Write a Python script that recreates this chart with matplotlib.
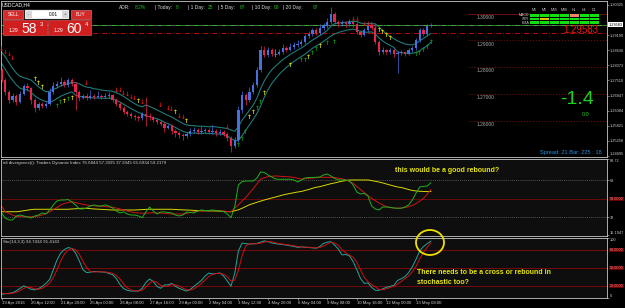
import numpy as np, matplotlib
matplotlib.use("Agg")
import matplotlib.pyplot as plt
from matplotlib.patches import Rectangle, Ellipse
from matplotlib.transforms import blended_transform_factory as blend

plt.rcParams.update({"font.family": ["Liberation Sans", "DejaVu Sans"], "font.size": 4})
BG, PANEL, FRAME, TXT = "#000000", "#0e0e0e", "#c8c8c8", "#d0d0d0"
BULL, BEAR, DOJI, TEAL = "#4470e0", "#e8254f", "#9a9a9a", "#1f7a78"
GREEN, YEL, DRED = "#22c022", "#e8e800", "#7a0a0a"
AXFS = 2.8  # right-hand scale labels

# ---------- data: USDCAD H4 candles ----------
opens = [1.2790, 1.2753, 1.2708, 1.2678, 1.2693, 1.2671, 1.2700, 1.2730, 1.2723, 1.2678,
         1.2648, 1.2663, 1.2656, 1.2663, 1.2708, 1.2730, 1.2738, 1.2745, 1.2734, 1.2753,
         1.2738, 1.2708, 1.2686, 1.2693, 1.2686, 1.2693, 1.2689, 1.2693, 1.2689, 1.2693,
         1.2697, 1.2678, 1.2663, 1.2648, 1.2633, 1.2626, 1.2618, 1.2615, 1.2611, 1.2626,
         1.2618, 1.2615, 1.2603, 1.2596, 1.2588, 1.2574, 1.2581, 1.2562, 1.2555, 1.2547,
         1.2544, 1.2551, 1.2562, 1.2566, 1.2559, 1.2562, 1.2566, 1.2559, 1.2562, 1.2555,
         1.2559, 1.2551, 1.2536, 1.2506, 1.2529, 1.2641, 1.2697, 1.2678, 1.2708, 1.2734,
         1.2790, 1.2865, 1.2846, 1.2865, 1.2850, 1.2850, 1.2857, 1.2872, 1.2865, 1.2876,
         1.2883, 1.2887, 1.2894, 1.2917, 1.2924, 1.2939, 1.2928, 1.2947, 1.2954, 1.2969,
         1.2999, 1.2969, 1.2961, 1.2965, 1.2961, 1.2969, 1.2961, 1.2932, 1.2920, 1.2939,
         1.2958, 1.2947, 1.2894, 1.2857, 1.2865, 1.2857, 1.2865, 1.2850, 1.2853, 1.2857,
         1.2850, 1.2865, 1.2872, 1.2902, 1.2939, 1.2924, 1.2954]
highs = [1.2798, 1.2760, 1.2715, 1.2703, 1.2700, 1.2712, 1.2738, 1.2740, 1.2728, 1.2685,
         1.2672, 1.2670, 1.2670, 1.2722, 1.2745, 1.2750, 1.2765, 1.2752, 1.2760, 1.2760,
         1.2745, 1.2715, 1.2700, 1.2703, 1.2715, 1.2700, 1.2712, 1.2700, 1.2705, 1.2708,
         1.2702, 1.2685, 1.2670, 1.2655, 1.2640, 1.2632, 1.2625, 1.2622, 1.2635, 1.2690,
         1.2630, 1.2620, 1.2610, 1.2603, 1.2595, 1.2590, 1.2588, 1.2570, 1.2562, 1.2555,
         1.2560, 1.2575, 1.2578, 1.2572, 1.2580, 1.2575, 1.2572, 1.2585, 1.2570, 1.2568,
         1.2565, 1.2560, 1.2542, 1.2540, 1.2655, 1.2712, 1.2705, 1.2725, 1.2745, 1.2800,
         1.2880, 1.2878, 1.2875, 1.2872, 1.2868, 1.2870, 1.2885, 1.2880, 1.2890, 1.2895,
         1.2900, 1.2905, 1.2925, 1.2935, 1.2948, 1.2945, 1.2960, 1.2965, 1.2985, 1.3025,
         1.3005, 1.2975, 1.2975, 1.2972, 1.2980, 1.2978, 1.2968, 1.2940, 1.2948, 1.2970,
         1.2965, 1.2952, 1.2900, 1.2875, 1.2870, 1.2872, 1.2870, 1.2862, 1.2865, 1.2862,
         1.2872, 1.2880, 1.2910, 1.2948, 1.2945, 1.2962, 1.2966]
lows = [1.2745, 1.2695, 1.2665, 1.2670, 1.2660, 1.2665, 1.2695, 1.2712, 1.2662, 1.2635,
        1.2640, 1.2648, 1.2650, 1.2658, 1.2700, 1.2722, 1.2730, 1.2725, 1.2728, 1.2730,
        1.2640, 1.2675, 1.2680, 1.2678, 1.2682, 1.2682, 1.2684, 1.2680, 1.2684, 1.2686,
        1.2670, 1.2655, 1.2640, 1.2625, 1.2618, 1.2610, 1.2605, 1.2600, 1.2605, 1.2580,
        1.2605, 1.2595, 1.2588, 1.2580, 1.2560, 1.2568, 1.2552, 1.2540, 1.2535, 1.2530,
        1.2538, 1.2545, 1.2555, 1.2550, 1.2552, 1.2555, 1.2550, 1.2552, 1.2545, 1.2548,
        1.2542, 1.2525, 1.2485, 1.2498, 1.2520, 1.2630, 1.2660, 1.2670, 1.2700, 1.2725,
        1.2782, 1.2838, 1.2840, 1.2842, 1.2838, 1.2845, 1.2850, 1.2858, 1.2860, 1.2870,
        1.2875, 1.2880, 1.2888, 1.2910, 1.2918, 1.2920, 1.2922, 1.2940, 1.2948, 1.2962,
        1.2960, 1.2952, 1.2955, 1.2952, 1.2955, 1.2950, 1.2925, 1.2912, 1.2915, 1.2932,
        1.2938, 1.2885, 1.2845, 1.2848, 1.2848, 1.2850, 1.2840, 1.2780, 1.2845, 1.2842,
        1.2845, 1.2858, 1.2865, 1.2895, 1.2915, 1.2918, 1.2950]
closes = [1.2753, 1.2708, 1.2678, 1.2693, 1.2671, 1.2700, 1.2730, 1.2723, 1.2678, 1.2648,
          1.2663, 1.2656, 1.2663, 1.2708, 1.2730, 1.2738, 1.2745, 1.2734, 1.2753, 1.2738,
          1.2708, 1.2686, 1.2693, 1.2686, 1.2693, 1.2689, 1.2693, 1.2689, 1.2693, 1.2697,
          1.2678, 1.2663, 1.2648, 1.2633, 1.2626, 1.2618, 1.2615, 1.2611, 1.2626, 1.2618,
          1.2615, 1.2603, 1.2596, 1.2588, 1.2574, 1.2581, 1.2562, 1.2555, 1.2547, 1.2544,
          1.2551, 1.2562, 1.2566, 1.2559, 1.2562, 1.2566, 1.2559, 1.2562, 1.2555, 1.2559,
          1.2551, 1.2536, 1.2506, 1.2529, 1.2641, 1.2697, 1.2678, 1.2708, 1.2734, 1.2790,
          1.2865, 1.2846, 1.2865, 1.2850, 1.2850, 1.2857, 1.2872, 1.2865, 1.2876, 1.2883,
          1.2887, 1.2894, 1.2917, 1.2924, 1.2939, 1.2928, 1.2947, 1.2954, 1.2969, 1.2999,
          1.2969, 1.2961, 1.2965, 1.2961, 1.2969, 1.2961, 1.2932, 1.2920, 1.2939, 1.2958,
          1.2947, 1.2894, 1.2857, 1.2865, 1.2857, 1.2865, 1.2850, 1.2853, 1.2857, 1.2850,
          1.2865, 1.2872, 1.2902, 1.2939, 1.2924, 1.2954, 1.2958]

# signal arrows (bar index, price)
red_idx = [0, 1, 2, 3, 23, 31, 32, 33, 34, 35, 36, 38, 43, 45, 46, 48, 49, 61, 95, 96, 98, 99, 100, 101]
red_px = [1.2865, 1.2857, 1.2846, 1.2831, 1.2738, 1.2715, 1.2712, 1.2704, 1.2697, 1.2689, 1.2682, 1.2667,
          1.2659, 1.2648, 1.2641, 1.2618, 1.2611, 1.2574, 1.2980, 1.2980, 1.2961, 1.2961, 1.2958, 1.2954]
yel_idx = [9, 10, 11, 17, 19, 37, 47, 50, 67, 68, 71, 78, 83, 86, 102, 103, 104, 105]
yel_px = [1.2756, 1.2741, 1.2726, 1.2674, 1.2682, 1.2671, 1.2630, 1.2596, 1.2611, 1.2630, 1.2704, 1.2805,
          1.2838, 1.2876, 1.2939, 1.2928, 1.2917, 1.2909]
grn_idx = [15, 16, 18, 64, 65, 66, 69, 70, 81, 82, 84, 85, 88, 90, 112, 113, 114, 115, 116]
grn_px = [1.2652, 1.2667, 1.2678, 1.2510, 1.2529, 1.2555, 1.2648, 1.2667, 1.2824, 1.2824, 1.2853, 1.2865,
          1.2887, 1.2894, 1.2846, 1.2850, 1.2861, 1.2872, 1.2891]

# Traders Dynamic Index
tdi_price = [36.4, 31.5, 29.6, 29.6, 33.5, 34.4, 33.5, 32.5, 31.5, 33.5,
             34.4, 36.4, 35.4, 39.3, 44.2, 48.1, 49.0, 49.0, 49.5, 47.1,
             44.2, 40.3, 40.3, 41.2, 43.2, 44.2, 43.2, 43.2, 44.2, 43.2,
             41.2, 38.3, 36.4, 37.4, 35.4, 34.4, 34.4, 33.5, 31.8, 37.4,
             42.2, 38.3, 35.4, 37.4, 37.4, 36.9, 36.4, 34.4, 33.5, 34.4,
             37.4, 36.9, 36.4, 38.3, 39.3, 38.8, 38.8, 39.3, 38.8, 38.3,
             37.8, 35.4, 31.8, 42.2, 63.6, 67.0, 67.5, 67.5, 67.5, 70.4,
             76.3, 75.8, 73.4, 71.4, 69.5, 69.2, 69.2, 69.2, 69.2, 68.5,
             66.5, 68.5, 70.4, 70.9, 70.9, 71.1, 71.4, 73.4, 74.3, 72.4,
             69.9, 68.5, 68.5, 68.5, 67.5, 63.6, 56.8, 54.9, 55.4, 52.9,
             43.2, 40.3, 39.3, 42.2, 42.2, 41.9, 41.2, 41.0, 41.0, 42.2,
             44.2, 49.0, 55.8, 61.7, 62.2, 62.6, 65.7]
tdi_signal = [43.2, 37.6, 35.9, 34.4, 33.0, 32.8, 32.8, 32.8, 32.8, 33.0,
              33.5, 34.4, 35.9, 37.4, 39.8, 41.7, 44.2, 45.6, 46.6, 47.3,
              46.6, 45.6, 44.8, 44.2, 43.7, 43.4, 43.2, 42.9, 42.6, 42.2,
              41.9, 41.2, 40.3, 39.3, 38.3, 37.4, 36.7, 36.4, 36.1, 36.2,
              36.4, 36.7, 36.4, 36.2, 36.1, 35.8, 35.4, 35.4, 35.4, 35.4,
              35.9, 36.9, 37.6, 38.0, 38.3, 38.6, 38.6, 38.6, 38.6, 38.6,
              38.3, 37.8, 37.6, 41.2, 44.2, 48.1, 51.5, 55.8, 59.9, 64.6,
              69.2, 70.7, 71.7, 72.1, 72.4, 72.2, 71.9, 71.7, 71.4, 71.1,
              70.2, 69.3, 69.7, 70.0, 70.4, 70.7, 71.1, 71.1, 71.1, 71.1,
              70.9, 70.2, 69.7, 68.7, 67.0, 65.3, 62.2, 59.2, 56.3, 53.4,
              50.7, 48.3, 46.1, 44.2, 42.5, 41.7, 41.2, 41.0, 41.2, 41.7,
              42.5, 43.7, 45.6, 47.8, 50.7, 54.5, 59.2]
tdi_base = [37.6, 37.6, 37.6, 37.6, 37.6, 38.0, 38.6, 39.1, 39.7, 40.0,
            40.0, 40.0, 40.0, 40.0, 40.0, 40.0, 40.0, 40.0, 40.0, 40.3,
            40.5, 40.8, 41.0, 40.9, 40.6, 40.3, 40.1, 39.9, 39.7, 39.5,
            39.3, 39.3, 39.3, 39.3, 39.3, 39.3, 39.3, 39.5, 39.7, 39.9,
            40.0, 40.0, 40.0, 40.0, 40.0, 40.0, 40.0, 39.8, 39.6, 39.4,
            39.3, 39.1, 38.9, 38.7, 38.6, 38.5, 38.4, 38.4, 38.3, 38.1,
            37.9, 37.7, 37.6, 38.5, 39.5, 41.0, 42.7, 44.4, 45.6, 46.8,
            47.9, 49.0, 50.0, 51.0, 51.9, 52.9, 53.9, 54.7, 55.4, 56.1,
            56.8, 57.3, 58.3, 59.2, 60.4, 61.4, 62.0, 62.9, 63.9, 64.9,
            65.6, 66.5, 67.3, 67.9, 68.5, 68.5, 68.5, 68.5, 68.5, 68.5,
            67.9, 67.2, 66.5, 65.6, 64.6, 63.6, 62.6, 61.7, 61.2, 60.2,
            59.2, 58.3, 57.8, 57.5, 57.3, 57.2, 57.3]

# Stochastic (14,3,3)
sto_main = [6.2, 7.1, 7.9, 8.7, 12.0, 16.1, 20.2, 17.7, 14.4, 13.6,
            15.6, 19.4, 24.3, 30.8, 47.2, 63.6, 75.1, 80.8, 84.1, 82.5,
            75.1, 62.0, 47.2, 42.3, 43.1, 44.3, 43.9, 43.3, 43.0, 41.1,
            39.0, 32.5, 22.6, 15.6, 12.8, 11.6, 11.6, 11.6, 16.1, 25.9,
            31.6, 27.5, 19.4, 16.1, 21.8, 21.8, 24.3, 19.4, 16.1, 13.6,
            11.6, 14.4, 19.4, 24.3, 29.2, 36.6, 41.5, 40.2, 40.7, 41.8,
            36.6, 28.4, 19.8, 40.7, 78.4, 91.5, 90.6, 89.8, 90.3, 91.0,
            93.1, 95.2, 93.9, 91.8, 90.6, 89.7, 89.0, 88.2, 87.0, 85.9,
            84.4, 85.2, 84.6, 84.1, 83.6, 82.9, 85.7, 91.0, 93.1, 93.9,
            88.2, 81.6, 71.8, 72.5, 70.2, 60.8, 47.2, 32.5, 24.3, 25.1,
            17.7, 12.8, 12.8, 15.3, 17.7, 19.4, 21.0, 29.2, 32.0, 35.7,
            42.3, 52.1, 64.4, 78.4, 85.7, 90.5, 94.7]
sto_signal = [8.0, 7.5, 7.1, 7.9, 9.5, 12.3, 16.1, 18.0, 17.4, 15.2,
              14.5, 16.2, 19.8, 24.8, 34.1, 47.2, 62.0, 73.2, 80.0, 82.5,
              80.6, 73.2, 61.4, 50.5, 44.2, 43.2, 43.8, 43.8, 43.4, 42.5,
              41.0, 37.5, 31.4, 23.6, 17.0, 13.3, 12.0, 11.6, 13.1, 17.9,
              24.5, 28.3, 26.2, 21.0, 19.1, 19.9, 22.6, 21.8, 19.9, 16.4,
              13.8, 13.2, 15.1, 19.4, 24.3, 30.0, 35.8, 39.4, 40.8, 40.9,
              39.7, 35.6, 28.3, 29.6, 46.3, 70.2, 86.8, 90.6, 90.2, 90.4,
              91.5, 93.1, 94.1, 93.6, 92.1, 90.7, 89.8, 89.0, 88.1, 87.0,
              85.8, 85.2, 84.7, 84.6, 84.1, 83.5, 84.1, 86.5, 89.9, 92.7,
              91.7, 87.9, 80.5, 75.3, 71.5, 67.8, 59.4, 46.8, 34.7, 27.3,
              22.4, 18.5, 14.4, 13.6, 15.3, 17.5, 19.4, 23.2, 27.4, 32.3,
              36.7, 43.4, 52.9, 65.0, 76.2, 84.6, 91.4]

time_ticks = [0, 8, 16, 24, 32, 40, 48, 56, 64, 72, 80, 88, 96, 104, 112]
time_labels = ["19 Apr 2016", "20 Apr 12:00", "21 Apr 20:00", "25 Apr 00:00", "26 Apr 08:00",
               "27 Apr 16:00", "29 Apr 00:00", "2 May 04:00", "3 May 12:00", "4 May 20:00",
               "6 May 04:00", "9 May 08:00", "10 May 16:00", "12 May 00:00", "13 May 08:00"]
price_ticks = [1.30325, 1.29199, 1.28636, 1.28073, 1.27510, 1.26947, 1.26384, 1.25821, 1.25258, 1.24695]
round_levels = [1.30, 1.29, 1.28, 1.27, 1.26]
BID, ASK_LINE = 1.29583, 1.2928
adr_keys = ["ADR:", "| Today:", "| 1 Day:", "| 5 Day:", "| 10 Day:", "| 20 Day:"]
adr_vals = ["8.2%", "8", "25", "87", "98", "97"]
tf_cols = ["M1", "M5", "M15", "M30", "H1", "H4", "D1"]
tf_rows = ["MACD", "STR", "EMA"]
tf_state = [["g", "g", "g", "g", "s", "g", "g"],
            ["g", "y", "g", "g", "g", "g", "g"],
            ["g", "g", "g", "g", "g", "g", "g"]]

o, h, l, c = map(np.array, (opens, highs, lows, closes))
x = np.arange(len(c))


def ema(vals, seed, span):
    a, e, out = 2.0 / (span + 1), seed, []
    for v in vals:
        e += a * (v - e)
        out.append(e)
    return np.array(out)


fig = plt.figure(figsize=(6.25, 3.08), dpi=100, facecolor=BG)


def px_axes(x0, y0, x1, y1, fc):
    return fig.add_axes([x0 / 625, 1 - y1 / 308, (x1 - x0) / 625, (y1 - y0) / 308], facecolor=fc)


def edge_labels(ax):
    # keep the first/last scale label inside the panel, like the terminal does
    labs = ax.get_yticklabels()
    labs[0].set_va("top")
    labs[-1].set_va("bottom")


ax1 = px_axes(1, 0.5, 607, 157, BG)
ax2 = px_axes(1, 159, 607, 236, PANEL)
ax3 = px_axes(1, 238, 607, 298, PANEL)
for a in (ax1, ax2, ax3):
    a.set_xlim(-0.14, 163.6)
    for s in a.spines.values():
        s.set_color(FRAME); s.set_linewidth(0.6)
    a.yaxis.tick_right()
    a.tick_params(axis="y", colors=FRAME, labelcolor=TXT, labelsize=AXFS, length=1.2, width=0.4, pad=0.6)
    a.tick_params(axis="x", bottom=False, labelbottom=False)

# ---------- price panel ----------
ax1.set_ylim(1.24654, 1.30491)
ax1.set_yticks(price_ticks)
ax1.set_yticklabels([f"{p:.5f}" for p in price_ticks])
ax1.get_yticklabels()[-1].set_va("bottom")
cols = np.where(c > o, BULL, np.where(c < o, BEAR, DOJI))
ax1.vlines(x, l, h, colors=cols, lw=0.5, zorder=3)
ax1.bar(x, c - o, bottom=o, width=0.62, color=cols, lw=0, zorder=3)
d = c == o
ax1.hlines(c[d], x[d] - 0.31, x[d] + 0.31, colors=DOJI, lw=0.5, zorder=3)
ax1.plot(x, ema(h, 1.2870, 10), color=TEAL, lw=0.8, zorder=2)
ax1.plot(x, ema(l, 1.2830, 10), color=TEAL, lw=0.8, zorder=2)
for idx, px, sym, col in ((red_idx, red_px, "↓", "#e81818"), (yel_idx, yel_px, "↑", YEL),
                          (grn_idx, grn_px, "↑", "#10a010")):
    for i, p in zip(idx, px):
        ax1.text(i, p, sym, color=col, fontsize=4.2, fontweight="bold", ha="center", va="center",
                 family="DejaVu Sans", zorder=4)
ax1.axhline(BID, color="#909090", lw=0.4, zorder=1)
ax1.axhline(BID, color="#30c030", lw=0.6, ls=(0, (6, 2, 1, 2)), zorder=1)
ax1.axhline(ASK_LINE, color="#d01010", lw=0.6, ls=(0, (6, 2, 1, 2)), zorder=1)
tb = blend(ax1.transAxes, ax1.transData)
for lv in round_levels:
    ax1.axhline(lv, xmin=0.77, color="#7a1010", lw=0.6, ls="-" if lv == 1.30 else (0, (1.5, 2)), zorder=1)
    ax1.text(0.785, lv - 0.0004, f"{lv:.5f}", transform=tb, color="#a8a8a8", fontsize=3.5, va="top")
ax1.text(1.003, BID, f"{BID:.5f}", transform=tb, color="#000000", fontsize=AXFS, va="center", clip_on=False,
         bbox=dict(fc="#ffffff", ec="none", pad=0.3), zorder=6)

# ---------- TDI panel ----------
ax2.set_ylim(14.0, 88.9)
ax2.set_yticks([88.72, 68, 32, 15.1947])
ax2.set_yticklabels(["88.72", "68", "32", "15.1947"])
labs = ax2.get_yticklabels()
labs[0].set_va("top"); labs[-1].set_va("bottom")
ax2.axhline(68, color="#6a6a6a", lw=0.5, ls=(0, (1.5, 1.5)))
ax2.axhline(32, color="#6a6a6a", lw=0.5, ls=(0, (1.5, 1.5)))
ax2.axhline(50, color=DRED, lw=0.6)
ax2.plot(x, tdi_base, color="#d8d800", lw=0.7)
ax2.plot(x, tdi_signal, color="#d01414", lw=0.7)
ax2.plot(x, tdi_price, color="#1fb01f", lw=0.7)
ax2.text(1.004, 50, "50.0000", transform=blend(ax2.transAxes, ax2.transData), color="#ff9090", fontsize=2.7,
         va="center", clip_on=False, bbox=dict(fc="#6a0000", ec="none", pad=0.3))
ax2.text(0.004, 0.975, "tdi divergence(i): Traders Dynamic Index 76.6844 57.3095 37.9345 65.6934 59.2179",
         transform=ax2.transAxes, color=TXT, fontsize=3.2, va="top")

# ---------- Stochastic panel ----------
ax3.set_ylim(0, 100)
ax3.set_yticks([100, 0])
ax3.set_yticklabels(["100", "0"])
labs = ax3.get_yticklabels()
labs[0].set_va("top"); labs[-1].set_va("bottom")
for lv in (80, 50, 20):
    ax3.axhline(lv, color=DRED, lw=0.7)
    ax3.text(1.004, lv, f"{lv:.4f}", transform=blend(ax3.transAxes, ax3.transData), color="#ff9090",
             fontsize=2.7, va="center", clip_on=False, bbox=dict(fc="#6a0000", ec="none", pad=0.3))
ax3.plot(x, sto_main, color="#20a8a0", lw=0.7)
ax3.plot(x, sto_signal, color="#d01010", lw=0.7)
ax3.text(0.004, 0.96, "Sto(14,3,3) 94.7434 91.4143", transform=ax3.transAxes, color=TXT, fontsize=3.2, va="top")
ax3.set_xticks(time_ticks)
ax3.set_xticklabels(time_labels)
ax3.tick_params(axis="x", bottom=True, labelbottom=True, colors=FRAME, labelcolor=TXT, labelsize=3.1,
                length=1.5, width=0.4, pad=1)
for t in ax3.get_xticklabels():
    t.set_ha("left")

# ---------- overlay (terminal widgets, notes) in pixel space ----------
ov = fig.add_axes([0, 0, 1, 1], zorder=10)
ov.set_xlim(0, 625); ov.set_ylim(308, 0); ov.axis("off")
ov.text(2, 4.5, "USDCAD,H4", color="#ffffff", fontsize=3.6, va="center")
for x0, lab in ((3.3, "SELL"), (70.7, "BUY")):
    ov.add_patch(Rectangle((x0, 10), 20, 9, fc="#d42a2a", ec="#f08080", lw=0.4))
    ov.text(x0 + 10, 14.5, lab, color="#ffffff", fontsize=3.4, ha="center", va="center")
ov.add_patch(Rectangle((25, 10), 43.5, 8.5, fc="#ffffff", ec="#a0a0a0", lw=0.3))
for x0, s in ((25.5, "-"), (62, "+")):
    ov.add_patch(Rectangle((x0, 10.6), 6, 7.3, fc="#d8d8d8", ec="none"))
    ov.text(x0 + 3, 14.2, s, color="#303030", fontsize=3.2, ha="center", va="center")
ov.text(53, 14.3, "0.01", color="#000000", fontsize=3.4, ha="center", va="center")
for x0, w, big, sup in ((3.3, 43.4, "58", "3"), (48.3, 42.4, "60", "4")):
    ov.add_patch(Rectangle((x0, 20), w, 15, fc="#d11f1f", ec="#ee6060", lw=0.4))
    ov.text(x0 + 5.5, 30.5, "1.29", color="#ffffff", fontsize=3.6, va="center")
    ov.text(x0 + 18, 33, big, color="#ffffff", fontsize=10, va="baseline")
    ov.text(x0 + 36.5, 24.5, sup, color="#ffffff", fontsize=4.2, va="center")
adr_x = [119, 155, 188, 218, 252, 283]
adr_vx = [135, 176, 208, 240, 274, 313]
for kx, vx, k, v in zip(adr_x, adr_vx, adr_keys, adr_vals):
    ov.text(kx, 7.5, k, color="#d8d8d8", fontsize=3.5, va="center")
    ov.text(vx, 7.5, v, color="#20c020", fontsize=3.5, va="center")
fillc = {"g": "#10e010", "y": "#e8c000", "s": "#f08070"}
for j, name in enumerate(tf_cols):
    ov.text(534.5 + 10 * j, 10, name, color="#c8c8c8", fontsize=2.6, ha="center", va="center")
for r, name in enumerate(tf_rows):
    ov.text(529, 15.3 + 3.7 * r, name, color="#c8c8c8", fontsize=2.6, ha="right", va="center")
    for j, st in enumerate(tf_state[r]):
        ov.add_patch(Rectangle((530 + 10 * j, 13.9 + 3.7 * r), 9, 2.8, fc=fillc[st], ec="none"))
ov.text(598, 30, f"{BID:.5f}", color="#f01818", fontsize=7, ha="right", va="center")
ov.text(594, 100, "-1.4", color="#20d020", fontsize=14, ha="right", va="center")
ov.text(590, 115, "0.0", color="#20c020", fontsize=4, ha="right", va="center")
ov.text(602, 152.5, "Spread: 21 Bar: 225 : 18", color="#2890e0", fontsize=4.1, ha="right", va="center")
ov.text(395, 171, "this would be a good rebound?", color=YEL, fontsize=5, fontweight="bold", va="center")
ov.text(417, 273, "There needs to be a cross or rebound in", color=YEL, fontsize=5, fontweight="bold", va="center")
ov.text(417, 283, "stochastic too?", color=YEL, fontsize=5, fontweight="bold", va="center")
ov.add_patch(Ellipse((430, 242.5), 28, 25, fill=False, ec="#f0e000", lw=1.3))

fig.savefig("out.png", dpi=100, facecolor=BG)
